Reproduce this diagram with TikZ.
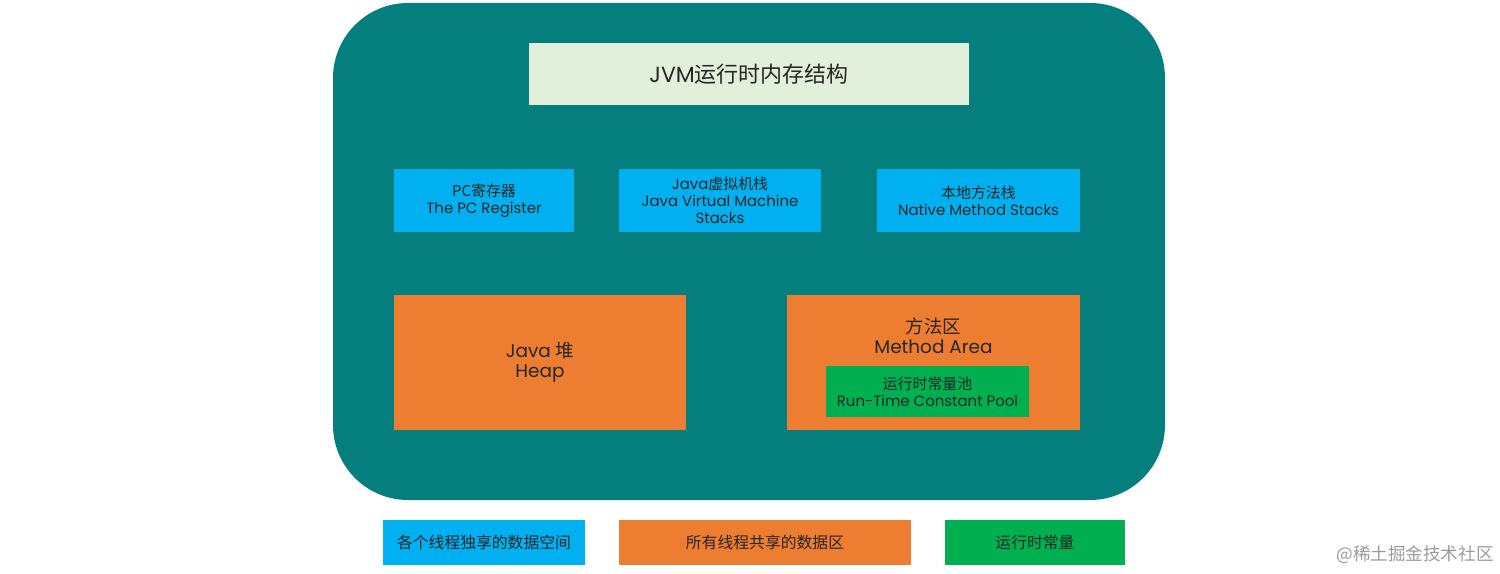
\documentclass[tikz,border=0pt]{standalone}
\usepackage{fontspec}
\setmainfont{Poppins}
\newfontfamily\cjk{Noto Sans CJK SC}
\usetikzlibrary{positioning}
\definecolor{jvmTeal}{HTML}{057E7E}
\definecolor{titleFill}{HTML}{E2EFDA}
\definecolor{threadBlue}{HTML}{00B0F0}
\definecolor{sharedOrange}{HTML}{ED7D31}
\definecolor{poolGreen}{HTML}{00B050}
\definecolor{inkDark}{HTML}{262626}
\definecolor{markGray}{HTML}{9A9A9A}
\newcommand{\zh}[1]{{\cjk #1}}
\tikzset{
  area/.style={draw=none, text=inkDark, align=center, inner sep=2pt},
  threadBox/.style={area, fill=threadBlue, minimum height=1.26cm,
                    font=\fontsize{8.5}{9.6}\selectfont},
  sharedBox/.style={area, fill=sharedOrange, minimum height=2.7cm,
                    minimum width=5.85cm, font=\fontsize{10.5}{11.5}\selectfont},
  poolBox/.style={area, fill=poolGreen, minimum height=1.02cm,
                  minimum width=4.06cm, font=\fontsize{8.5}{9.6}\selectfont},
  legendBox/.style={area, minimum height=0.9cm, font=\fontsize{9}{10}\selectfont}
}

\begin{document}
\begin{tikzpicture}
\useasboundingbox (0,0) rectangle (30,11.46);

% ------------------------------------------------------------
% OUTER FRAME
% ------------------------------------------------------------
\node[fill=jvmTeal, rounded corners=1.5cm, minimum width=16.64cm,
      minimum height=9.94cm, inner sep=0pt] (jvm) at (14.98,6.43) {};

\node[area, fill=titleFill, minimum width=8.8cm, minimum height=1.24cm,
      font=\fontsize{12.5}{14}\selectfont] (title) at (14.98,9.98)
{JVM\zh{运行时内存结构}};

% ------------------------------------------------------------
% PER-THREAD AREAS
% ------------------------------------------------------------
\node[threadBox, minimum width=3.6cm] (pc) at (9.68,7.45)
{\zh{PC寄存器}\\The PC Register};
\node[threadBox, minimum width=4.04cm] (vmstack) at (14.4,7.45)
{Java\zh{虚拟机栈}\\Java Virtual Machine\\Stacks};
\node[threadBox, minimum width=4.06cm] (native) at (19.57,7.45)
{\zh{本地方法栈}\\Native Method Stacks};

% ------------------------------------------------------------
% SHARED AREAS
% ------------------------------------------------------------
\node[sharedBox, minimum width=5.84cm] (heap) at (10.8,4.21)
{Java \zh{堆}\\Heap};
\node[sharedBox, minimum width=5.86cm] (method) at (18.67,4.21) {};
\node[area, font=\fontsize{10.5}{11.5}\selectfont] (methodLabel) at (18.67,4.74)
{\zh{方法区}\\Method Area};
\node[poolBox] (pool) at (18.55,3.63)
{\zh{运行时常量池}\\Run-Time Constant Pool};

% ------------------------------------------------------------
% LEGEND
% ------------------------------------------------------------
\node[legendBox, fill=threadBlue, minimum width=4.04cm] (keyThread) at (9.68,0.61)
{\zh{各个线程独享的数据空间}};
\node[legendBox, fill=sharedOrange, minimum width=5.84cm] (keyShared) at (15.3,0.61)
{\zh{所有线程共享的数据区}};
\node[legendBox, fill=poolGreen, minimum width=3.6cm] (keyPool) at (20.7,0.61)
{\zh{运行时常量}};

\node[text=markGray, anchor=east, inner sep=0pt,
      font=\cjk\fontsize{10}{11}\selectfont] (mark) at (29.88,0.36)
{@稀土掘金技术社区};

\end{tikzpicture}
\end{document}
